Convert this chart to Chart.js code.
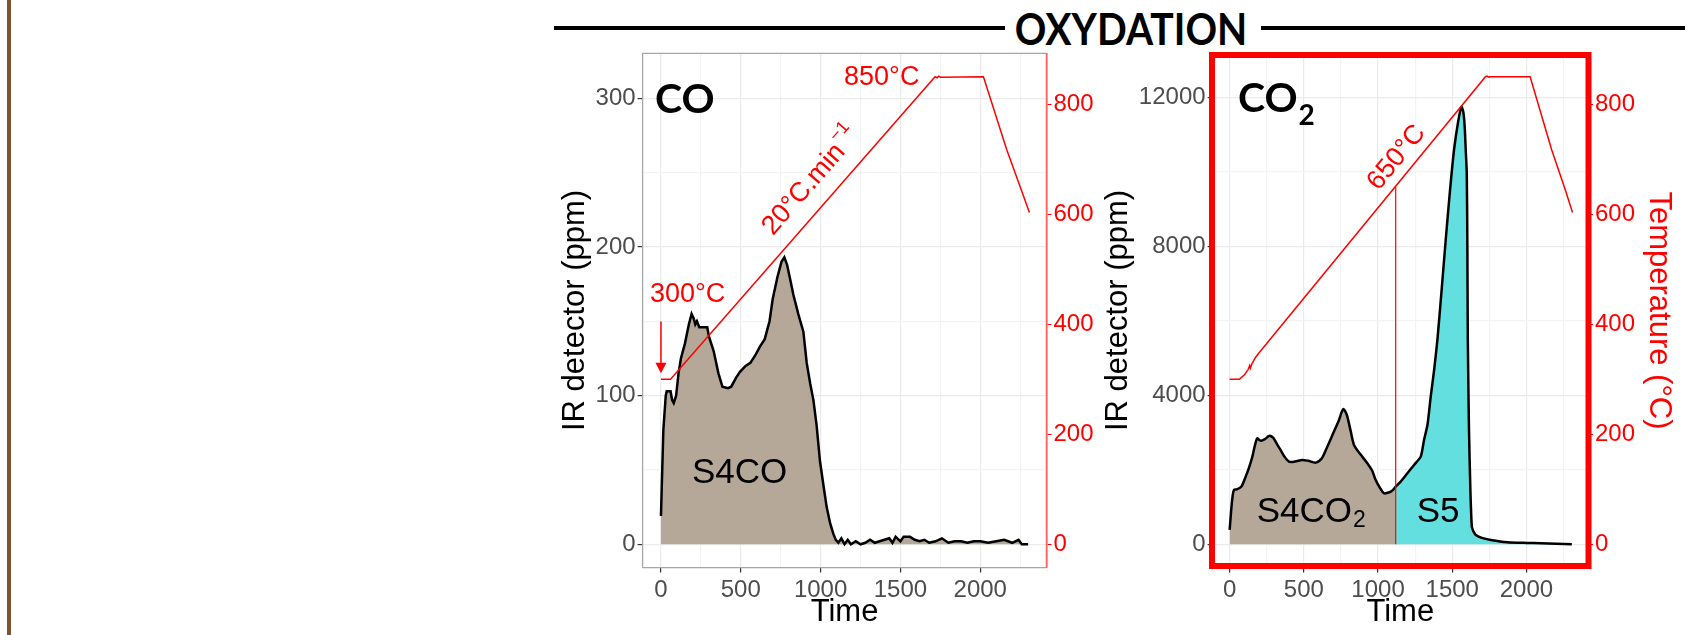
<!DOCTYPE html>
<html>
<head>
<meta charset="utf-8">
<script src="https://cdn.jsdelivr.net/npm/chart.js@4.4.1/dist/chart.umd.min.js"></script>
<style>
  html, body { margin:0; padding:0; background:#ffffff; }
  body { width:1694px; height:635px; position:relative; overflow:hidden; }
  #brown { position:absolute; left:7px; top:0; width:4px; height:635px; background:#7b5533; }
  .rule { position:absolute; top:26px; height:4px; background:#000; }
  #title { position:absolute; left:931px; width:400px; top:6px; text-align:center;
           font-family: Lato, 'Open Sans', sans-serif; font-weight:bold; font-size:44px; line-height:44px; color:#000;
           transform: scaleX(0.89); transform-origin: 200px 0; }
  #c1 { position:absolute; left:0; top:0; }
  #c2 { position:absolute; left:1080px; top:0; }
</style>
</head>
<body>
<div id="brown"></div>
<div class="rule" style="left:554px;width:451px"></div>
<div class="rule" style="left:1261px;width:424px"></div>
<div id="title">OXYDATION</div>
<canvas id="c1" width="1100" height="635"></canvas>
<canvas id="c2" width="614" height="635"></canvas>
<script>
// ---------------- DATA ----------------
// CO signal (left panel): time (s) and IR detector (ppm)
const coTime = [0, 15, 30, 36, 60, 70, 80, 95, 110, 125, 150, 175, 192, 205, 215, 225, 240, 270, 290, 300, 330, 360, 385, 420, 440, 470, 495, 530, 560, 590, 620, 650, 680, 700, 730, 755, 773, 790, 810, 829, 860, 892, 913, 935, 955, 975, 996, 1020, 1038, 1060, 1080, 1095, 1111,
  1130, 1150, 1170, 1190, 1220, 1250, 1280, 1310, 1340, 1370, 1400, 1430, 1450, 1470, 1500, 1520, 1560, 1590, 1620, 1650, 1680, 1720, 1760, 1800, 1840, 1880, 1920, 1960, 2000, 2050, 2100, 2150, 2200, 2240, 2260, 2300];
const coPpm = [19, 77, 100, 103, 103, 97, 95, 100, 115, 125, 135, 148, 155, 152, 148, 150, 146, 146, 146, 140, 130, 115, 106, 105, 106, 112, 116, 120, 122, 127, 133, 138, 150, 165, 180, 190, 193, 188, 178, 168, 155, 143, 122, 108, 97, 80, 56, 38, 25, 14, 7, 3, 1,
  4, 0, 3, 0, 2, 0, 1, 3, 1, 2, 3, 4, 1, 5, 2, 5, 5, 3, 2, 3, 1, 2, 4, 1, 2, 2, 1, 2, 2, 1, 2, 3, 1, 3, 0, 0];

// Oven temperature during the CO run (°C)
const tempCOTime = [0, 60, 1717, 1730, 1740, 1750, 2020, 2166, 2250, 2308];
const tempCOVal  = [300, 300, 850, 848, 851, 849, 850, 717, 650, 603];

// CO2 signal (right panel), split into the S4CO2 and S5 areas at t = 1119 s
const s4Time = [0, 10, 20, 29, 45, 63, 80, 108, 130, 153, 170, 186, 200, 213, 240, 262, 276, 295, 320, 343, 370, 400, 440, 490, 530, 580, 620, 658, 700, 737, 755, 766, 780, 793, 815, 838, 880, 928, 960, 984, 1015, 1040, 1065, 1086, 1105, 1119];
const s4Ppm  = [384, 900, 1300, 1458, 1470, 1503, 1550, 1815, 2050, 2352, 2650, 2845, 2800, 2781, 2830, 2900, 2907, 2850, 2680, 2531, 2350, 2218, 2220, 2263, 2240, 2191, 2300, 2620, 3000, 3337, 3550, 3632, 3560, 3426, 3050, 2666, 2420, 2174, 1980, 1726, 1500, 1369, 1380, 1412, 1480, 1546];
const s5Time = [1119, 1153, 1198, 1243, 1288, 1310, 1333, 1355, 1378, 1400, 1430, 1456, 1485, 1512, 1540, 1562, 1575, 1584, 1592, 1598, 1602, 1605, 1613, 1622, 1632, 1645, 1659, 1700, 1760, 1872, 2000, 2097, 2200, 2306];
const s5Ppm  = [1546, 1681, 1906, 2129, 2352, 2800, 3200, 3962, 4679, 5485, 6900, 8169, 9500, 10586, 11350, 11748, 11600, 11210, 10500, 9960, 8000, 5485, 3068, 1500, 473, 330, 250, 170, 115, 54, 35, 27, 15, 0];

// Oven temperature during the CO2 run (°C)
const tempCO2Time = [0, 65, 100, 125, 135, 140, 150, 175, 204, 1724, 1735, 1745, 1755, 2025, 2170, 2255, 2311];
const tempCO2Val  = [300, 300, 308, 318, 325, 320, 328, 340, 350, 850, 851, 849, 850, 850, 717, 650, 603];

// 650 °C marker separating S4CO2 and S5
const splitTime = [1119, 1119];
const splitTemp = [0, 650];

// Tick values
const timeTicks = [0, 250, 500, 750, 1000, 1250, 1500, 1750, 2000, 2250];
const coTicks   = [0, 50, 100, 150, 200, 250, 300];
const co2Ticks  = [0, 2000, 4000, 6000, 8000, 10000, 12000];
const tempTicks = [0, 200, 400, 600, 800];

// ---------------- HELPERS ----------------
const SANS = "'Liberation Sans', Arial, sans-serif";
const BOLD = "Lato, 'Open Sans', sans-serif";
const pts = (xs, ys) => xs.map((x, i) => ({ x, y: ys[i] }));

function xAxis(h) {
  return {
    type: 'linear', min: -115, max: 2415,
    afterBuildTicks: s => { s.ticks = timeTicks.map(v => ({ value: v })); },
    afterFit: s => { s.height = h; },
    ticks: { autoSkip: false, maxRotation: 0, padding: 3, color: '#4d4d4d',
             font: { family: SANS, size: 24 }, callback: v => (v % 500 === 0 ? String(v) : '') },
    grid: { color: c => (c.tick && c.tick.value % 500 === 0 ? '#ebebeb' : '#f3f3f3'), lineWidth: 1.2,
            tickColor: c => (c.tick && c.tick.value % 500 === 0 ? '#333333' : 'rgba(0,0,0,0)'), tickLength: 5 },
    border: { display: false },
    title: { display: true, text: 'Time', color: '#000', font: { family: SANS, size: 31 }, padding: 0 }
  };
}
function yAxis(min, max, ticks, major, w) {
  return {
    type: 'linear', position: 'left', min, max,
    afterBuildTicks: s => { s.ticks = ticks.map(v => ({ value: v })); },
    afterFit: s => { s.width = w; },
    ticks: { autoSkip: false, padding: 2, color: '#4d4d4d', font: { family: SANS, size: 24 },
             callback: v => (v % major === 0 ? String(v) : '') },
    grid: { color: c => (c.tick && c.tick.value % major === 0 ? '#ebebeb' : '#f3f3f3'), lineWidth: 1.2,
            tickColor: c => (c.tick && c.tick.value % major === 0 ? '#333333' : 'rgba(0,0,0,0)'), tickLength: 5 },
    border: { display: false },
    title: { display: true, text: 'IR detector (ppm)', color: '#000', font: { family: SANS, size: 31 }, padding: 0 }
  };
}
function tAxis(w, withTitle) {
  return {
    type: 'linear', position: 'right', min: -42.5, max: 892.5,
    afterBuildTicks: s => { s.ticks = tempTicks.map(v => ({ value: v })); },
    afterFit: s => { s.width = w; },
    ticks: { autoSkip: false, padding: 2, color: '#ff0000', font: { family: SANS, size: 24 } },
    grid: { drawOnChartArea: false, tickColor: '#ff0000', tickLength: 5 },
    border: { display: true, color: '#ff6060', width: 1.5 },
    title: { display: withTitle, text: 'Temperature (°C)', color: '#ff0000', font: { family: SANS, size: 31 }, padding: 0 }
  };
}

function rotatedLabel(ctx, cx, cy, angle, main, sup, size) {
  ctx.save();
  ctx.translate(cx, cy);
  ctx.rotate(angle);
  ctx.fillStyle = '#ff0000';
  ctx.font = size + 'px ' + SANS;
  const w1 = ctx.measureText(main).width;
  ctx.font = Math.round(size * 0.66) + 'px ' + SANS;
  const w2 = sup ? ctx.measureText(sup).width : 0;
  const x0 = -(w1 + w2) / 2;
  ctx.textBaseline = 'middle';
  ctx.textAlign = 'left';
  ctx.font = size + 'px ' + SANS;
  ctx.fillText(main, x0, 0);
  if (sup) {
    ctx.font = Math.round(size * 0.66) + 'px ' + SANS;
    ctx.fillText(sup, x0 + w1 + 1, -size * 0.42);
  }
  ctx.restore();
}
function rampAngle(x, y1, tArr, vArr, i0, i1) {
  const dx = x.getPixelForValue(tArr[i1]) - x.getPixelForValue(tArr[i0]);
  const dy = y1.getPixelForValue(vArr[i1]) - y1.getPixelForValue(vArr[i0]);
  return Math.atan2(dy, dx);
}

// ---------------- LEFT PANEL (CO) ----------------
const annotCO = {
  id: 'annotCO',
  afterDatasetsDraw(chart) {
    const { ctx, chartArea: a, scales: { x, y, y1 } } = chart;
    ctx.save();
    // panel border
    ctx.strokeStyle = '#a6a6a6'; ctx.lineWidth = 1.3;
    ctx.beginPath(); ctx.moveTo(a.right, a.top); ctx.lineTo(a.left, a.top); ctx.lineTo(a.left, a.bottom); ctx.lineTo(a.right, a.bottom); ctx.stroke();
    ctx.strokeStyle = '#ff6060'; ctx.lineWidth = 1.5;
    ctx.beginPath(); ctx.moveTo(a.right, a.top); ctx.lineTo(a.right, a.bottom); ctx.stroke();

    // big label
    ctx.fillStyle = '#000'; ctx.textAlign = 'left'; ctx.textBaseline = 'alphabetic';
    ctx.font = 'bold 41px ' + BOLD;
    ctx.fillText('CO', x.getPixelForValue(-38), y.getPixelForValue(290));
    // area label
    ctx.font = '35px ' + SANS;
    ctx.fillText('S4CO', x.getPixelForValue(194), y.getPixelForValue(41));
    // temperature labels
    ctx.fillStyle = '#ff0000';
    ctx.font = '27px ' + SANS;
    ctx.fillText('850°C', x.getPixelForValue(1147), y1.getPixelForValue(835));
    ctx.fillText('300°C', x.getPixelForValue(-69), y1.getPixelForValue(441));
    // arrow to start of ramp
    const ax = x.getPixelForValue(0);
    ctx.strokeStyle = '#ff0000'; ctx.lineWidth = 1.5;
    ctx.beginPath(); ctx.moveTo(ax, y1.getPixelForValue(405)); ctx.lineTo(ax, y1.getPixelForValue(328)); ctx.stroke();
    ctx.beginPath();
    ctx.moveTo(ax - 5.5, y1.getPixelForValue(330));
    ctx.lineTo(ax + 5.5, y1.getPixelForValue(330));
    ctx.lineTo(ax, y1.getPixelForValue(311));
    ctx.closePath(); ctx.fill();
    // ramp label
    const ang = rampAngle(x, y1, tempCOTime, tempCOVal, 1, 2);
    rotatedLabel(ctx, x.getPixelForValue(938), y1.getPixelForValue(659), ang, '20°C.min', '−1', 27);
    ctx.restore();
  }
};

new Chart(document.getElementById('c1'), {
  type: 'line',
  data: {
    datasets: [
      { label: 'Temperature', data: pts(tempCOTime, tempCOVal), yAxisID: 'y1', borderColor: '#ff0000', borderWidth: 1.5,
        pointRadius: 0, fill: false, tension: 0, order: 0 },
      { label: 'CO', data: pts(coTime, coPpm), yAxisID: 'y', borderColor: '#000000', borderWidth: 2.5,
        backgroundColor: '#b6a898', fill: 'origin', pointRadius: 0, tension: 0, order: 1 }
    ]
  },
  options: {
    responsive: false, animation: false, devicePixelRatio: 1,
    layout: { padding: { left: 556.4, right: 0, top: 53.3, bottom: 4.4 } },
    plugins: { legend: { display: false }, tooltip: { enabled: false } },
    scales: { x: xAxis(63), y: yAxis(-15.7, 330.3, coTicks, 100, 86.2), y1: tAxis(53.5, false) }
  },
  plugins: [annotCO]
});

// ---------------- RIGHT PANEL (CO2) ----------------
const annotCO2 = {
  id: 'annotCO2',
  afterDatasetsDraw(chart) {
    const { ctx, scales: { x, y, y1 } } = chart;
    ctx.save();
    ctx.fillStyle = '#000'; ctx.textAlign = 'left'; ctx.textBaseline = 'alphabetic';
    ctx.font = 'bold 41px ' + BOLD;
    const cx = x.getPixelForValue(56);
    ctx.fillText('CO', cx, y.getPixelForValue(11613));
    const wCO = ctx.measureText('CO').width;
    ctx.font = 'bold 28px ' + BOLD;
    ctx.fillText('2', cx + wCO + 1, y.getPixelForValue(11260));
    ctx.font = '35px ' + SANS;
    const sx = x.getPixelForValue(182);
    ctx.fillText('S4CO', sx, y.getPixelForValue(607));
    const wS = ctx.measureText('S4CO').width;
    ctx.fillText('S5', x.getPixelForValue(1261), y.getPixelForValue(607));
    ctx.font = '23px ' + SANS;
    ctx.fillText('2', sx + wS + 1, y.getPixelForValue(464));
    const ang = rampAngle(x, y1, tempCO2Time, tempCO2Val, 8, 9);
    rotatedLabel(ctx, x.getPixelForValue(1125), y1.getPixelForValue(703), ang, '650°C', null, 27);
    ctx.restore();
  },
  afterDraw(chart) {
    const ctx = chart.ctx;
    ctx.save();
    ctx.strokeStyle = '#ff0000'; ctx.lineWidth = 6;
    ctx.strokeRect(1212 - 1080, 55, 1588.5 - 1212, 566 - 55);
    ctx.restore();
  }
};

new Chart(document.getElementById('c2'), {
  type: 'line',
  data: {
    datasets: [
      { label: 'Temperature', data: pts(tempCO2Time, tempCO2Val), yAxisID: 'y1', borderColor: '#ff0000', borderWidth: 1.5,
        pointRadius: 0, fill: false, tension: 0, order: 0 },
      { label: '650 °C', data: pts(splitTime, splitTemp), yAxisID: 'y1', borderColor: '#ff0000', borderWidth: 1.2,
        pointRadius: 0, fill: false, tension: 0, order: 0 },
      { label: 'S4CO2', data: pts(s4Time, s4Ppm), yAxisID: 'y', borderColor: '#000000', borderWidth: 2.5,
        backgroundColor: '#b6a898', fill: 'origin', pointRadius: 0, tension: 0.3, order: 1 },
      { label: 'S5', data: pts(s5Time, s5Ppm), yAxisID: 'y', borderColor: '#000000', borderWidth: 2.5,
        backgroundColor: '#63dfdf', fill: 'origin', pointRadius: 0, tension: 0.2, order: 1 }
    ]
  },
  options: {
    responsive: false, animation: false, devicePixelRatio: 1,
    layout: { padding: { left: 19.4, right: 16.4, top: 53.3, bottom: 4.4 } },
    plugins: { legend: { display: false }, tooltip: { enabled: false } },
    scales: { x: xAxis(63), y: yAxis(-628, 13183, co2Ticks, 4000, 113.2), y1: tAxis(89.6, true) }
  },
  plugins: [annotCO2]
});
</script>
</body>
</html>
